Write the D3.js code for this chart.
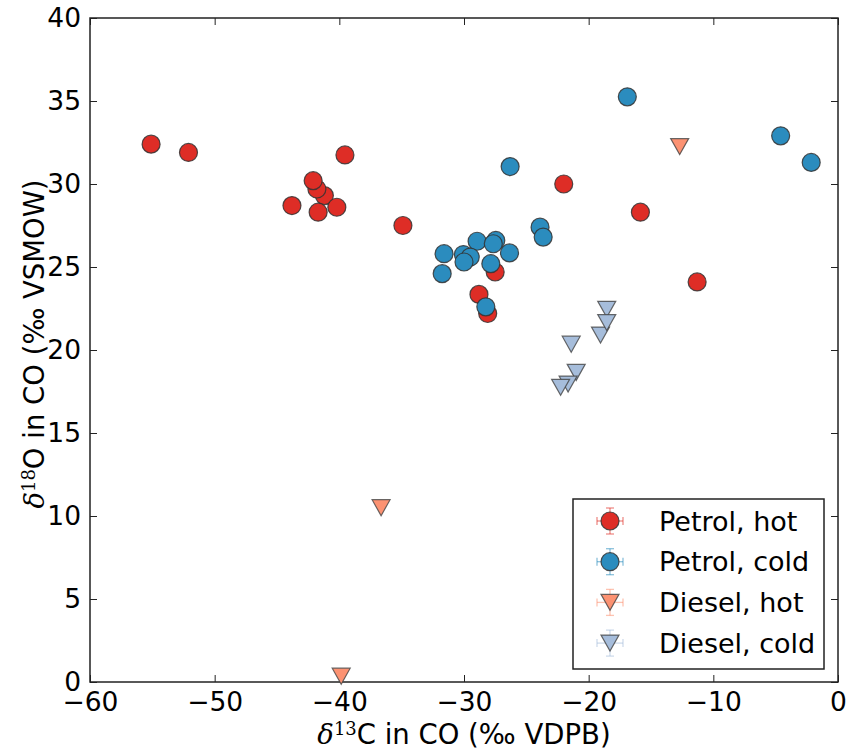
<!DOCTYPE html>
<html>
<head>
<meta charset="utf-8">
<script src="https://cdn.jsdelivr.net/npm/d3@7/dist/d3.min.js"></script>
<style>
  body { margin: 0; background: #fff; }
  text { font-family: "DejaVu Sans", sans-serif; }
</style>
</head>
<body>
<script>
// data: [d13C, d18O]
var petrolHot = [
  [-55.1, 32.4], [-52.1, 31.9], [-39.55, 31.75], [-41.2, 29.3], [-40.2, 28.6],
  [-41.8, 29.7], [-42.1, 30.2], [-43.8, 28.7], [-41.7, 28.3], [-34.9, 27.5],
  [-22.0, 30.0], [-15.85, 28.3], [-11.3, 24.1], [-27.5, 24.7], [-28.8, 23.35],
  [-28.1, 22.2]
];
var petrolCold = [
  [-16.9, 35.25], [-4.6, 32.9], [-2.15, 31.3], [-26.3, 31.05], [-23.9, 27.4],
  [-23.65, 26.8], [-31.6, 25.8], [-31.75, 24.6], [-28.95, 26.55], [-27.45, 26.6],
  [-27.65, 26.4], [-26.35, 25.85], [-30.05, 25.75], [-29.5, 25.6], [-30.0, 25.3],
  [-27.85, 25.2], [-28.25, 22.6]
];
var dieselHot = [[-12.7, 32.25], [-36.65, 10.5], [-39.85, 0.35]];
var dieselCold = [
  [-18.55, 22.45], [-19.05, 20.9], [-18.55, 21.65], [-21.4, 20.35],
  [-21.0, 18.65], [-21.65, 17.95], [-22.25, 17.75]
];

var seriesNames = ["Petrol, hot", "Petrol, cold", "Diesel, hot", "Diesel, cold"];
var seriesData = [petrolHot, petrolCold, dieselHot, dieselCold];
var seriesColors = ["#de2d26", "#2b8cbe", "#fc9272", "#a6bddb"];
var seriesShapes = ["circle", "circle", "tri", "tri"];

var xTicks = [-60, -50, -40, -30, -20, -10, 0];
var yTicks = [0, 5, 10, 15, 20, 25, 30, 35, 40];

var W = 848, H = 754;
var margin = {top: 18, right: 10, bottom: 72, left: 90};
var x = d3.scaleLinear().domain([-60, 0]).range([margin.left, W - margin.right]);
var y = d3.scaleLinear().domain([0, 40]).range([H - margin.bottom, margin.top]);

var svg = d3.select("body").append("svg")
    .attr("width", W)
    .attr("height", H);

var tickLen = 7;
var fs = 26.5;

// inward ticks on all four sides
var axB = d3.axisBottom(x).tickValues(xTicks).tickSize(-tickLen).tickPadding(10);
var axT = d3.axisTop(x).tickValues(xTicks).tickSize(-tickLen).tickFormat("");
var axL = d3.axisLeft(y).tickValues(yTicks).tickSize(-tickLen).tickPadding(9);
var axR = d3.axisRight(y).tickValues(yTicks).tickSize(-tickLen).tickFormat("");

function styleAxis(g) {
  g.select(".domain").remove();
  g.selectAll(".tick line").attr("stroke", "#222").attr("stroke-width", 1);
  g.selectAll(".tick text").attr("font-size", fs).attr("fill", "#000")
   .style("font-family", "DejaVu Sans");
}

svg.append("g").attr("transform", "translate(0," + y(0) + ")").call(axB).call(styleAxis);
svg.append("g").attr("transform", "translate(0," + y(40) + ")").call(axT).call(styleAxis);
svg.append("g").attr("transform", "translate(" + x(-60) + ",0)").call(axL).call(styleAxis);
svg.append("g").attr("transform", "translate(" + x(0) + ",0)").call(axR).call(styleAxis);

// frame
svg.append("rect")
   .attr("x", x(-60)).attr("y", y(40))
   .attr("width", x(0) - x(-60)).attr("height", y(0) - y(40))
   .attr("fill", "none").attr("stroke", "#222").attr("stroke-width", 1.5);

// markers
var r = 9;
function triPath(cx, cy) {
  var hw = 9, hh = 8;
  return "M" + (cx - hw) + "," + (cy - hh) + "L" + (cx + hw) + "," + (cy - hh) +
         "L" + cx + "," + (cy + hh) + "Z";
}

function drawMarker(g, shape, cx, cy, color) {
  if (shape == "circle") {
    g.append("circle").attr("cx", cx).attr("cy", cy).attr("r", r)
     .attr("fill", color).attr("stroke", "#333").attr("stroke-opacity", 0.85)
     .attr("stroke-width", 1.2);
  } else {
    g.append("path").attr("d", triPath(cx, cy))
     .attr("fill", color).attr("stroke", "#444").attr("stroke-opacity", 0.8)
     .attr("stroke-width", 1.2).attr("stroke-linejoin", "miter");
  }
}

var plot = svg.append("g");
seriesData.forEach(function(data, i) {
  data.forEach(function(d) {
    drawMarker(plot, seriesShapes[i], x(d[0]), y(d[1]), seriesColors[i]);
  });
});

// legend
var lg = svg.append("g");
lg.append("rect")
  .attr("x", 573).attr("y", 499).attr("width", 251).attr("height", 170)
  .attr("fill", "#fff").attr("stroke", "#222").attr("stroke-width", 1.5);

seriesNames.forEach(function(name, i) {
  var cy = 521 + i * 40.7, cx = 610;
  var c = seriesColors[i];
  var eb = lg.append("g").attr("stroke", c).attr("stroke-opacity", 0.55).attr("stroke-width", 1.3);
  eb.append("line").attr("x1", cx - 13).attr("x2", cx + 13).attr("y1", cy).attr("y2", cy);
  eb.append("line").attr("x1", cx).attr("x2", cx).attr("y1", cy - 13).attr("y2", cy + 13);
  eb.append("line").attr("x1", cx - 13).attr("x2", cx - 13).attr("y1", cy - 4).attr("y2", cy + 4);
  eb.append("line").attr("x1", cx + 13).attr("x2", cx + 13).attr("y1", cy - 4).attr("y2", cy + 4);
  eb.append("line").attr("x1", cx - 4).attr("x2", cx + 4).attr("y1", cy - 13).attr("y2", cy - 13);
  eb.append("line").attr("x1", cx - 4).attr("x2", cx + 4).attr("y1", cy + 13).attr("y2", cy + 13);
  drawMarker(lg, seriesShapes[i], cx, cy, c);
  lg.append("text").attr("x", 659).attr("y", cy + 9.5)
    .attr("font-size", 27).text(name);
});

// axis labels
var xl = svg.append("text")
   .attr("x", (x(-60) + x(0)) / 2).attr("y", 744)
   .attr("text-anchor", "middle").attr("font-size", 27.5);
xl.append("tspan").attr("font-family", "DejaVu Serif").attr("font-style", "italic").text("δ");
xl.append("tspan").attr("font-family", "DejaVu Serif").attr("font-size", 18).attr("dy", -9).text("13");
xl.append("tspan").attr("dy", 9).text("C in CO (‰ VDPB)");

var yl = svg.append("text")
   .attr("transform", "translate(44," + ((y(0) + y(40)) / 2 - 6) + ") rotate(-90)")
   .attr("text-anchor", "middle").attr("font-size", 27.5);
yl.append("tspan").attr("font-family", "DejaVu Serif").attr("font-style", "italic").text("δ");
yl.append("tspan").attr("font-family", "DejaVu Serif").attr("font-size", 18).attr("dy", -9).text("18");
yl.append("tspan").attr("dy", 9).text("O in CO (‰ VSMOW)");
</script>
</body>
</html>
